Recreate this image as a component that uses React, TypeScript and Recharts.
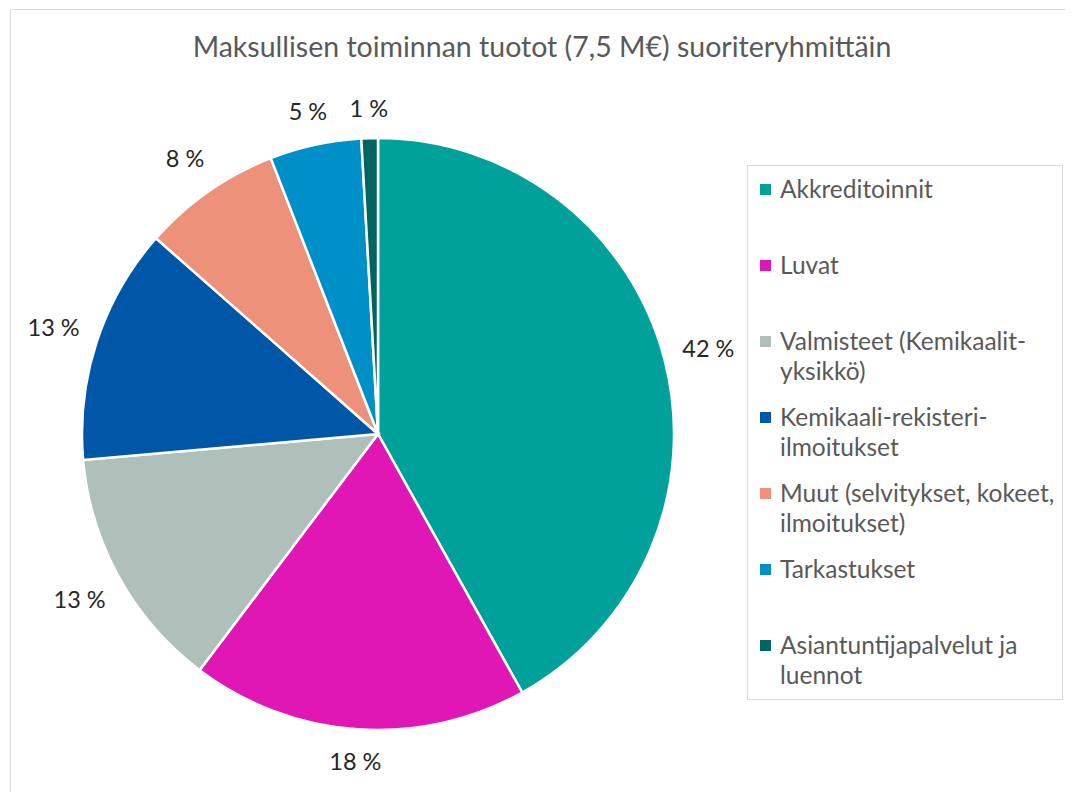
import React from 'react';
import { PieChart, Pie, Cell, Legend } from 'recharts';

// Suoriteryhmät ja osuudet (%)
const categories = [
  'Akkreditoinnit',
  'Luvat',
  'Valmisteet (Kemikaalit-yksikkö)',
  'Kemikaali-rekisteri-ilmoitukset',
  'Muut (selvitykset, kokeet, ilmoitukset)',
  'Tarkastukset',
  'Asiantuntijapalvelut ja luennot',
];
const shares = [41.9, 18.4, 13.3, 12.9, 7.6, 5.0, 0.9];
const legendLines = [
  ['Akkreditoinnit'],
  ['Luvat'],
  ['Valmisteet (Kemikaalit-', 'yksikkö)'],
  ['Kemikaali-rekisteri-', 'ilmoitukset'],
  ['Muut (selvitykset, kokeet,', 'ilmoitukset)'],
  ['Tarkastukset'],
  ['Asiantuntijapalvelut ja', 'luennot'],
];
const COLORS = ['#00a19a', '#e016b5', '#afbfba', '#0057a8', '#ee917a', '#0090c8', '#006560'];

const title = 'Maksullisen toiminnan tuotot (7,5 M€) suoriteryhmittäin';

const data = categories.map((name, i) => ({ name, value: shares[i] }));

const FONT = 'Lato, "Open Sans", sans-serif';
const RAD = Math.PI / 180;

const renderLabel = (props: any) => {
  const { cx, cy, midAngle, outerRadius, value } = props;
  const c = Math.cos(-midAngle * RAD);
  const s = Math.sin(-midAngle * RAD);
  // push label box out so its nearest edge sits just outside the slice
  const dist = outerRadius + 22 + 22 * Math.abs(c) + 8 * Math.abs(s);
  const x = cx + dist * c;
  const y = cy + dist * s;
  return (
    <text x={x} y={y} textAnchor="middle" dominantBaseline="central" fill="#262626" fontSize={23.5} fontFamily={FONT}>
      {`${Math.round(value)} %`}
    </text>
  );
};

const renderLegend = () => (
  <div style={{ width: 316, height: 535, boxSizing: 'border-box', border: '1px solid #d9d9d9', position: 'relative', background: '#fff' }}>
    {categories.map((name, i) => (
      <div key={name} style={{ position: 'absolute', left: 12, top: 8 + 76 * i, display: 'flex', alignItems: 'flex-start' }}>
        <span style={{ width: 11, height: 11, background: COLORS[i], marginTop: 10, marginRight: 9, flexShrink: 0 }} />
        <div style={{ fontFamily: FONT, fontSize: 24.5, lineHeight: '30px', color: '#595959', whiteSpace: 'nowrap' }}>
          {legendLines[i].map((l, j) => (
            <div key={j}>{l}</div>
          ))}
        </div>
      </div>
    ))}
  </div>
);

export default function App() {
  return (
    <div style={{ position: 'relative', width: 1065, height: 784, overflow: 'hidden', background: '#fff' }}>
      <div style={{ position: 'absolute', left: 2, top: 1, width: 1200, height: 1000, border: '1px solid #d9d9d9', boxSizing: 'border-box' }} />
      <div style={{ position: 'absolute', left: 0, top: 19, width: 1068, textAlign: 'center', fontFamily: FONT, fontSize: 28.5, lineHeight: '38px', color: '#595959' }}>
        {title}
      </div>
      <div style={{ position: 'absolute', left: 0, top: 0 }}>
        <PieChart width={1065} height={784} margin={{ top: 0, right: 0, bottom: 0, left: 0 }}>
          <Pie
            data={data}
            dataKey="value"
            nameKey="name"
            cx={370}
            cy={426}
            outerRadius={296}
            startAngle={90}
            endAngle={-270}
            stroke="#ffffff"
            strokeWidth={2.5}
            label={renderLabel}
            labelLine={false}
            isAnimationActive={false}
          >
            {data.map((d, i) => (
              <Cell key={d.name} fill={COLORS[i]} />
            ))}
          </Pie>
          <Legend
            layout="vertical"
            align="right"
            verticalAlign="top"
            content={renderLegend}
            wrapperStyle={{ left: 739, top: 157, width: 316, height: 535 }}
          />
        </PieChart>
      </div>
    </div>
  );
}
